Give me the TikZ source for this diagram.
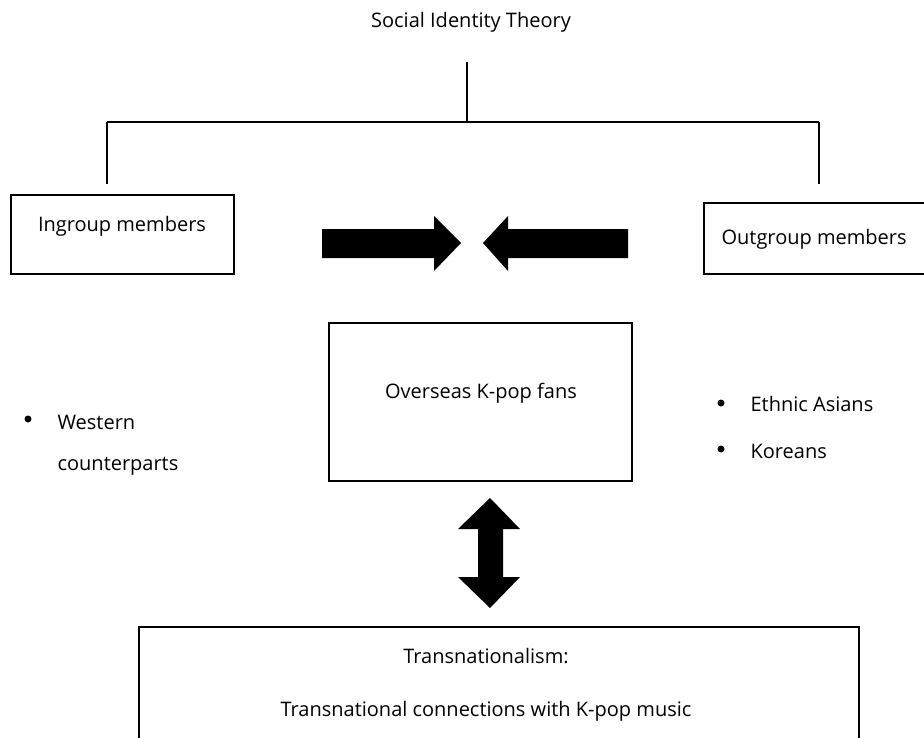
\documentclass[tikz,border=0pt]{standalone}
\usepackage{fontspec}
\setmainfont{Open Sans}
\begin{document}
\begin{tikzpicture}[x=0.75pt,y=-0.75pt,line width=0.9pt,
	lbl/.style={font=\fontsize{15}{18}\selectfont, inner sep=0pt}]
			\useasboundingbox (0,0) rectangle (924,738);
			% theory and its branches
			\node[lbl] (sit) at (471,22) {Social Identity Theory};
			\coordinate (stem) at (467,62);
			\coordinate (fork) at (467,122);
			\coordinate (lfork) at (107,122);
			\coordinate (rfork) at (819,122);
			\coordinate (ldrop) at (107,184);
			\coordinate (rdrop) at (819,184);
			\draw (stem) -- (fork);
			\draw (lfork) -- (rfork);
			\draw (lfork) -- (ldrop);
			\draw (rfork) -- (rdrop);
			% group boxes
			\draw (11,195) rectangle (234,274);
			\node[lbl] (ingroup) at (122,226) {Ingroup members};
			\draw (704,203) rectangle (940,274);
			\node[lbl,anchor=west] (outgroup) at (721,239) {Outgroup members};
			% block arrows facing each other
			\fill (322,229) -- (434,229) -- (434,216) -- (461,243) -- (434,271) -- (434,258) -- (322,258) -- cycle;
			\fill (628,229) -- (508,229) -- (508,216) -- (483,243) -- (508,271) -- (508,258) -- (628,258) -- cycle;
			% fans
			\draw (329,323) rectangle (632,481);
			\node[lbl] (fans) at (481,393) {Overseas K-pop fans};
			\fill (28,419) circle (3.5);
			\node[lbl,anchor=west] (western) at (57,422) {Western};
			\node[lbl,anchor=west] (counter) at (57,466) {counterparts};
			\fill (721,403) circle (3.5);
			\node[lbl,anchor=west] (asians) at (750,404) {Ethnic Asians};
			\fill (721,449) circle (3.5);
			\node[lbl,anchor=west] (koreans) at (750,451) {Koreans};
			% double arrow
			\fill (490,498) -- (520,529) -- (503,529) -- (503,577) -- (520,577) -- (490,608)
				-- (458,577) -- (478,577) -- (478,529) -- (458,529) -- cycle;
			% transnationalism
			\draw (139,627) rectangle (859,760);
			\node[lbl] (trans) at (486,656) {Transnationalism:};
			\node[lbl] (conn) at (486,711) {Transnational connections with K-pop music};
		\end{tikzpicture}
\end{document}
